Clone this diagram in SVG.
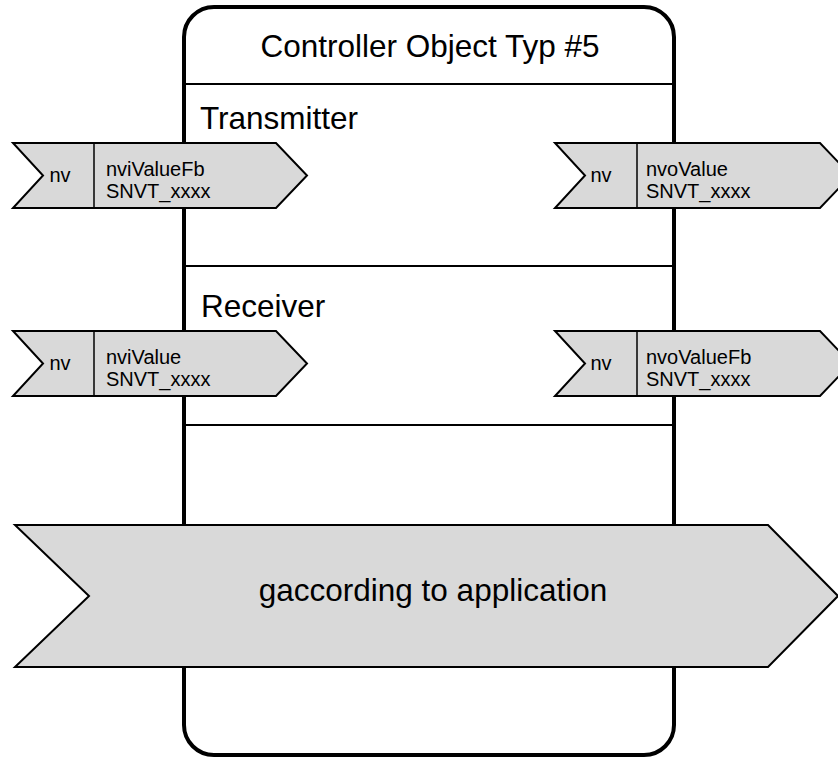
<svg xmlns="http://www.w3.org/2000/svg" width="838" height="760" viewBox="0 0 838 760">
<style>
  .box { fill: #ffffff; stroke: #000000; stroke-width: 4; }
  .div { stroke: #000000; stroke-width: 2; fill: none; }
  .arrow { fill: #d9d9d9; stroke: #000000; stroke-width: 2; stroke-linejoin: miter; }
  .sep { stroke: #000000; stroke-width: 1.5; }
  .big { font-family: "Liberation Sans", Arial, sans-serif; font-size: 31.5px; fill: #000000; }
  .small { font-family: "Liberation Sans", Arial, sans-serif; font-size: 20px; fill: #000000; }
</style>
<g id="controller">
  <rect class="box" x="184" y="7" width="490" height="748" rx="30" ry="30"/>
  <text class="big" x="430" y="57" text-anchor="middle">Controller Object Typ #5</text>
  <line class="div" x1="184" y1="84" x2="674" y2="84"/>
  <text class="big" x="200" y="129">Transmitter</text>
  <line class="div" x1="184" y1="266" x2="674" y2="266"/>
  <text class="big" x="201" y="317">Receiver</text>
  <line class="div" x1="184" y1="425" x2="674" y2="425"/>
</g>
<g id="nviValueFb">
  <polygon class="arrow" points="13,143 276,143 307,175.5 276,208 13,208 43,175.5"/>
  <line class="sep" x1="94" y1="143" x2="94" y2="208"/>
  <text class="small" x="60" y="182" text-anchor="middle">nv</text>
  <text class="small" x="106" y="176">nviValueFb</text>
  <text class="small" x="106" y="198">SNVT_xxxx</text>
</g>
<g id="nvoValue">
  <polygon class="arrow" points="555,143 820,143 851,175.5 820,208 555,208 585,175.5"/>
  <line class="sep" x1="637" y1="143" x2="637" y2="208"/>
  <text class="small" x="601" y="182" text-anchor="middle">nv</text>
  <text class="small" x="646" y="176">nvoValue</text>
  <text class="small" x="646" y="198">SNVT_xxxx</text>
</g>
<g id="nviValue">
  <polygon class="arrow" points="13,331 276,331 307,363.5 276,396 13,396 43,363.5"/>
  <line class="sep" x1="94" y1="331" x2="94" y2="396"/>
  <text class="small" x="60" y="370" text-anchor="middle">nv</text>
  <text class="small" x="106" y="364">nviValue</text>
  <text class="small" x="106" y="386">SNVT_xxxx</text>
</g>
<g id="nvoValueFb">
  <polygon class="arrow" points="555,331 820,331 851,363.5 820,396 555,396 585,363.5"/>
  <line class="sep" x1="637" y1="331" x2="637" y2="396"/>
  <text class="small" x="601" y="370" text-anchor="middle">nv</text>
  <text class="small" x="646" y="364">nvoValueFb</text>
  <text class="small" x="646" y="386">SNVT_xxxx</text>
</g>
<g id="application">
  <polygon class="arrow" points="15,525 768,525 838,596 768,667 15,667 89,596"/>
  <text class="big" x="433" y="601" text-anchor="middle">gaccording to application</text>
</g>
<g id="connectors"></g>
</svg>
